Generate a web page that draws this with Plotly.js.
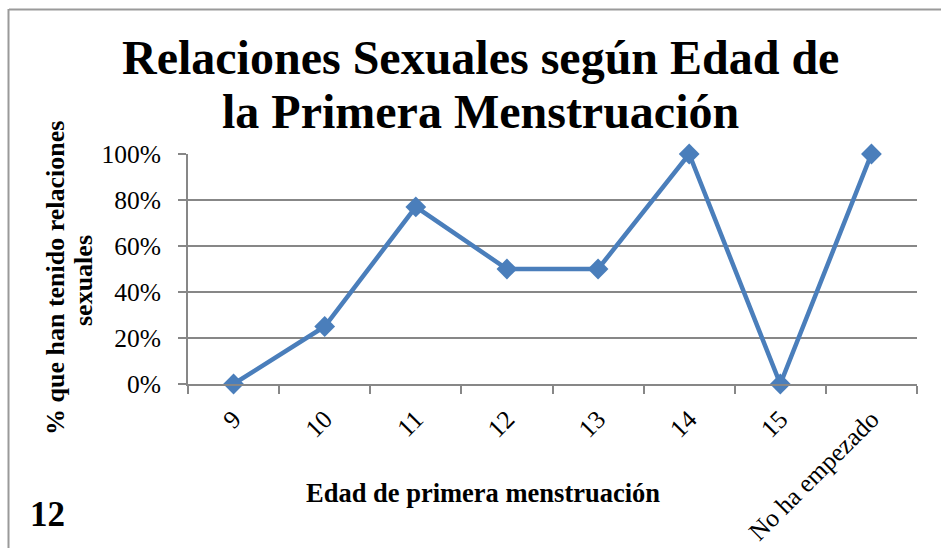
<!DOCTYPE html>
<html><head><meta charset="utf-8">
<script src="https://cdn.plot.ly/plotly-3.0.1.min.js"></script>
<style>html,body{margin:0;padding:0;background:#fff;overflow:hidden}</style>
</head><body>
<div id="chart" style="width:941px;height:548px"></div>
<script>
const categories = ["9", "10", "11", "12", "13", "14", "15", "No ha empezado"];
const values = [0, 0.25, 0.77, 0.5, 0.5, 1.0, 0, 1.0];
const yTickVals = [0, 0.2, 0.4, 0.6, 0.8, 1.0];
const yTickText = ["0%", "20%", "40%", "60%", "80%", "100%"];
const titleLines = ["Relaciones Sexuales según Edad de", "la Primera Menstruación"];
const xTitle = "Edad de primera menstruación";
const yTitleLines = ["% que han tenido relaciones", "sexuales"];
const pageLabel = "12";

const serif = "Liberation Serif, Times New Roman, serif";
const L = 188, R = 24, T = 154, B = 164;
const W = 941 - L - R, H = 548 - T - B;
const px = x => (x - L) / W;
const py = y => (548 - B - y) / H;

function label(text, x, y, size, opts) {
  return Object.assign({text: "<b>" + text + "</b>", xref: "paper", yref: "paper",
    x: px(x), y: py(y), xanchor: "center", yanchor: "middle", showarrow: false,
    font: {family: serif, size: size, color: "#000"}}, opts || {});
}

Plotly.newPlot("chart", [{
  x: categories, y: values, type: "scatter", mode: "lines+markers",
  line: {color: "#4A7EBB", width: 4.5},
  marker: {symbol: "diamond", size: 16, color: "#4A7EBB"},
  cliponaxis: false, hoverinfo: "skip"
}], {
  width: 941, height: 548,
  margin: {l: L, r: R, t: T, b: B},
  paper_bgcolor: "#fff", plot_bgcolor: "#fff",
  showlegend: false,
  font: {family: serif, color: "#000"},
  xaxis: {
    type: "category", range: [-0.5, 7.5], tickangle: -45,
    tickfont: {family: serif, size: 25.5, color: "#000"},
    ticklabelstandoff: 8,
    showgrid: false, showline: true, linecolor: "#878787", linewidth: 2,
    ticks: "outside", ticklen: 8, tickcolor: "#878787", tickwidth: 2,
    tickson: "boundaries", zeroline: false, fixedrange: true
  },
  yaxis: {
    range: [0, 1], tickvals: yTickVals, ticktext: yTickText,
    tickfont: {family: serif, size: 25.5, color: "#000"},
    ticklabelstandoff: 12,
    showgrid: true, gridcolor: "#878787", gridwidth: 2,
    showline: true, linecolor: "#878787", linewidth: 2,
    ticks: "outside", ticklen: 8, tickcolor: "#878787", tickwidth: 2,
    zeroline: false, fixedrange: true
  },
  annotations: [
    label(titleLines[0], 480.5, 57, 48),
    label(titleLines[1], 480, 112, 48),
    label(xTitle, 482.5, 493, 26.5),
    label(yTitleLines[0], 55, 278, 26, {textangle: -90}),
    label(yTitleLines[1], 83, 280, 26, {textangle: -90}),
    label(pageLabel, 47, 514, 35)
  ],
  shapes: [
    {type: "line", xref: "paper", yref: "paper", x0: px(9), x1: px(960), y0: py(9.5), y1: py(9.5),
     line: {color: "#9a9a9a", width: 2}, layer: "below"},
    {type: "line", xref: "paper", yref: "paper", x0: px(8.5), x1: px(8.5), y0: py(9), y1: py(560),
     line: {color: "#9a9a9a", width: 2}, layer: "below"}
  ]
}, {displayModeBar: false, staticPlot: true});
</script>
</body></html>
